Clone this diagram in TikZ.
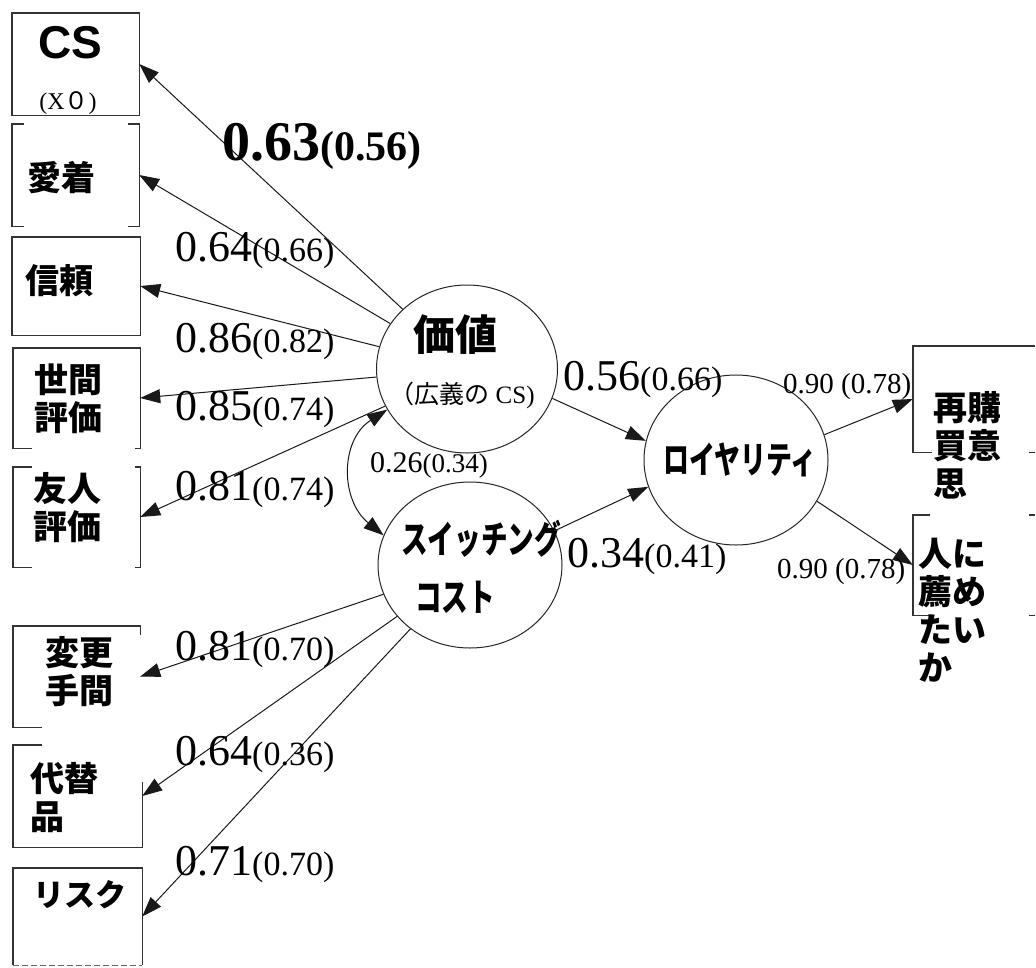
\documentclass[tikz,border=0pt]{standalone}
\usepackage{fontspec}
\setmainfont{Liberation Serif}
\newfontfamily\jp{Noto Sans CJK JP}
\newfontfamily\jpc{Noto Sans CJK JP}[FakeStretch=0.7]
\newfontfamily\arialf{Liberation Sans}
\usetikzlibrary{shapes.geometric,arrows.meta}
\newcommand{\pcoef}[4]{{\fontsize{#3}{#3}\selectfont #1}{\fontsize{#4}{#4}\selectfont #2}}
\tikzset{
  boxn/.style={rectangle, inner sep=0pt, draw=none},
  bl/.style={draw=black!80, line width=1.4pt},
  circ/.style={ellipse, draw=black!85, line width=1pt, inner sep=0pt},
  arr/.style={draw=black!90, line width=1pt, -{Triangle[length=20pt,width=14pt]}},
  darr/.style={draw=black!90, line width=1pt, {Triangle[length=20pt,width=14pt]}-{Triangle[length=20pt,width=14pt]}},
  jpbox/.style={font=\jp\bfseries\fontsize{34}{38}\selectfont, inner sep=0pt, align=left},
  lab/.style={inner sep=0pt, anchor=base west},
  txt/.style={inner sep=0pt}
}
\begin{document}
\begin{tikzpicture}[x=1pt,y=-1pt]
\useasboundingbox (0,0) rectangle (1036,967);
\fill[white] (0,0) rectangle (1036,967);

% ---------- left boxes ----------
\node[boxn, minimum width=127, minimum height=102] (cs) at (75.5,64) {};
\node[boxn, minimum width=127, minimum height=102] (aichaku) at (75.5,175) {};
\node[boxn, minimum width=128, minimum height=98] (shinrai) at (76,286) {};
\node[boxn, minimum width=127, minimum height=100] (seken) at (76.5,398) {};
\node[boxn, minimum width=127, minimum height=100] (yujin) at (76.5,517) {};
\node[boxn, minimum width=127, minimum height=101] (henko) at (76.5,676.5) {};
\node[boxn, minimum width=129, minimum height=102] (daitai) at (77.5,796) {};
\node[boxn, minimum width=129, minimum height=97] (risk) at (77.5,916.5) {};
% right boxes
\node[boxn, minimum width=122, minimum height=106] (rebuy) at (974,399) {};
\node[boxn, minimum width=122, minimum height=100] (recom) at (974,565) {};

% borders
\draw[bl] (cs.north west) rectangle (cs.south east);
\draw[bl] ([xshift=12pt]aichaku.north west) -- (aichaku.north west) -- (aichaku.south west) -- ++(12,0);
\draw[bl] ([xshift=-11pt]aichaku.north east) -- (aichaku.north east) -- (aichaku.south east) -- ++(-11,0);
\draw[bl] (shinrai.north west) rectangle (shinrai.south east);
\draw[bl] ([xshift=19pt]seken.south west) -- (seken.south west) -- (seken.north west) -- (seken.north east) -- (seken.south east) -- ++(-5,0);
\draw[bl] ([xshift=19pt]yujin.north west) -- (yujin.north west) -- (yujin.south west) -- ++(19,0);
\draw[bl] ([xshift=-5pt]yujin.north east) -- (yujin.north east) -- (yujin.south east) -- ++(-5,0);
\draw[bl] ([xshift=29pt]henko.south west) -- (henko.south west) -- (henko.north west) -- (henko.north east) -- ++(0,9);
\draw[bl] ([xshift=29pt]daitai.north west) -- (daitai.north west) -- (daitai.south west) -- (daitai.south east) -- ++(0,-65);
\draw[bl] (risk.south west) -- (risk.north west) -- (risk.north east) -- (risk.south east);
\draw[draw=black!60, line width=1.4pt, dash pattern=on 6pt off 3pt] (risk.south west) -- (risk.south east);
\draw[bl] ([xshift=19pt]rebuy.south west) -- (rebuy.south west) -- (rebuy.north west) -- (rebuy.north east);
\draw[bl] ([xshift=-6pt]rebuy.south east) -- (rebuy.south east);
\draw[bl] ([xshift=17pt]recom.north west) -- (recom.north west) -- (recom.south west) -- ++(17,0);
\draw[bl] ([xshift=-6pt]recom.north east) -- (recom.north east);
\draw[bl] ([xshift=-6pt]recom.south east) -- (recom.south east);

% box texts
\node[txt, font=\arialf\bfseries\fontsize{46}{46}\selectfont] (tcs) at (70,43) {CS};
\node[txt, font=\fontsize{24}{24}\selectfont] (tcs2) at (68,103) {(X{\jp ０})};
\node[jpbox, anchor=west] (taichaku) at (27,178) {愛着};
\node[jpbox, anchor=west] (tshinrai) at (25,281) {信頼};
\node[jpbox] (tseken) at (68,399) {世間\\評価};
\node[jpbox] (tyujin) at (67,508) {友人\\評価};
\node[jpbox] (thenko) at (79,672) {変更\\手間};
\node[jpbox, anchor=west] (tdaitai) at (30,798) {代替\\品};
\node[jpbox, anchor=west, font=\jp\bfseries\fontsize{31}{36}\selectfont] (trisk) at (33,895) {リスク};
\node[jpbox, anchor=west] (trebuy) at (933,445) {再購\\買意\\思};
\node[jpbox, anchor=west] (trecom) at (918,610) {人に\\薦め\\たい\\か};

% ---------- latent variables ----------
\node[circ, minimum width=181, minimum height=168] (kachi) at (467,369) {};
\node[circ, minimum width=184, minimum height=166] (sc) at (470,565) {};
\node[circ, minimum width=184, minimum height=170] (loyal) at (736,460) {};

\node[txt, font=\jp\bfseries\fontsize{42}{42}\selectfont] (tkachi) at (455,335) {価値};
\node[txt, font=\fontsize{25}{25}\selectfont] (tkachi2) at (462,395) {{\jp （広義の} CS)};
\node[txt, font=\jpc\bfseries\fontsize{38}{38}\selectfont] (tsc1) at (481,539) {スイッチング};
\node[txt, font=\jpc\bfseries\fontsize{38}{38}\selectfont] (tsc2) at (455,597) {コスト};
\node[txt, font=\jpc\bfseries\fontsize{37}{37}\selectfont] (tloyal) at (740,460) {ロイヤリティ};

% ---------- connectors ----------
\draw[arr] (kachi) -- (cs.east);
\draw[arr] (kachi) -- (aichaku.east);
\draw[arr] (kachi) -- (shinrai.east);
\draw[arr] (kachi) -- (seken.east);
\draw[arr] (kachi) -- (yujin.east);
\draw[arr] (sc) -- (henko.east);
\draw[arr] (sc) -- (daitai.east);
\draw[arr] (sc) -- (risk.east);
\draw[arr] (kachi.341) -- (loyal.168);
\draw[arr] (sc.22) -- (loyal.197);
\draw[arr] (loyal.16) -- (rebuy.west);
\draw[arr] (loyal.333) -- (recom.west);
\draw[darr] (kachi.207) .. controls (340,440) and (340,500) .. (sc.161);

% ---------- coefficients ----------
\node[lab, font=\bfseries] (c1) at (222,160) {\pcoef{0.63}{(0.56)}{56}{42}};
\node[lab] (c2) at (175,261) {\pcoef{0.64}{(0.66)}{44}{34}};
\node[lab] (c3) at (175,352) {\pcoef{0.86}{(0.82)}{44}{34}};
\node[lab] (c4) at (175,420) {\pcoef{0.85}{(0.74)}{44}{34}};
\node[lab] (c5) at (175,500) {\pcoef{0.81}{(0.74)}{44}{34}};
\node[lab] (c6) at (370,472) {\pcoef{0.26}{(0.34)}{30}{27}};
\node[lab] (c7) at (563,390) {\pcoef{0.56}{(0.66)}{44}{34}};
\node[lab] (c8) at (567,567) {\pcoef{0.34}{(0.41)}{44}{34}};
\node[lab] (c9) at (783,393) {\pcoef{0.90 (0.78)}{}{29}{29}};
\node[lab] (c10) at (777,578) {\pcoef{0.90 (0.78)}{}{29}{29}};
\node[lab] (c11) at (175,660) {\pcoef{0.81}{(0.70)}{44}{34}};
\node[lab] (c12) at (175,765) {\pcoef{0.64}{(0.36)}{44}{34}};
\node[lab] (c13) at (175,875) {\pcoef{0.71}{(0.70)}{44}{34}};
\end{tikzpicture}
\end{document}
